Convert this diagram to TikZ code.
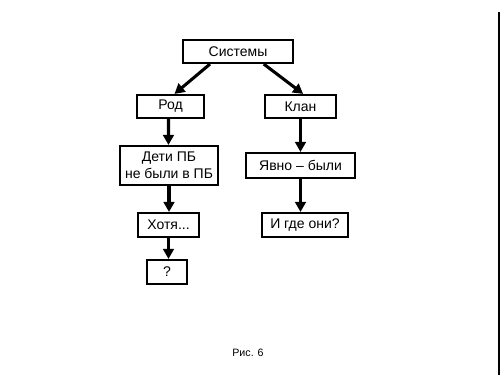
\documentclass[tikz,border=0pt]{standalone}
\usepackage{fontspec}
\setmainfont{Liberation Sans}
\usetikzlibrary{arrows.meta,calc}

\tikzset{every picture/.style={line width=0.75pt}}
\tikzset{
  blok/.style={draw, line width=1.6pt, inner sep=0pt, align=center, font=\fontsize{10.5pt}{12.5pt}\selectfont},
  strelka/.style={line width=2.3pt, -{Triangle[length=7.5pt,width=8pt]}}
}

\begin{document}
\begin{tikzpicture}[x=0.75pt,y=0.75pt,yscale=-1,xscale=1]
\useasboundingbox (0,0) rectangle (500,375);

%Straight Lines (frame edge)
\draw [line width=1.5pt] (499.2,12) -- (499.2,375);

% Text Node
\draw (238,51.5) node [blok, minimum width=82.5pt, minimum height=17.25pt] (sys) {Системы};
% Text Node
\draw (170.5,106.5) node [blok, minimum width=50pt, minimum height=17.25pt] (rod) {Род};
% Text Node
\draw (300.5,106.5) node [blok, minimum width=53.25pt, minimum height=17.25pt] (klan) {Клан};
% Text Node
\draw (169,165.5) node [blok, minimum width=73.5pt, minimum height=29.25pt] (deti) {Дети ПБ\\не были в ПБ};
% Text Node
\draw (300.5,165.5) node [blok, minimum width=81.75pt, minimum height=18.75pt] (yavno) {Явно – были};
% Text Node
\draw (168.5,225) node [blok, minimum width=45.75pt, minimum height=18pt] (hotya) {Хотя...};
% Text Node
\draw (305,225) node [blok, minimum width=64.5pt, minimum height=18pt] (gde) {И где они?};
% Text Node
\draw (167,272) node [blok, minimum width=30pt, minimum height=18pt] (vopr) {?};
% Text Node
\draw (248,353) node [inner sep=0.75pt, font=\fontsize{8pt}{9pt}\selectfont] (ris) {Рис. 6};

%Arrows
\draw [strelka] ($(sys.south west)!0.25!(sys.south east)$) -- ([xshift=3pt]rod.north);
\draw [strelka] ($(sys.south west)!0.73!(sys.south east)$) -- ([xshift=2pt]klan.north);
\draw [strelka] ([xshift=-1.5pt]rod.south) -- ([xshift=-0.4pt]deti.north);
\draw [strelka] (klan.south) -- (yavno.north);
\draw [strelka] (deti.south) -- (deti.south |- hotya.north);
\draw [strelka] (yavno.south) -- (yavno.south |- gde.north);
\draw [strelka] (hotya.south) -- (hotya.south |- vopr.north);

\end{tikzpicture}
\end{document}
